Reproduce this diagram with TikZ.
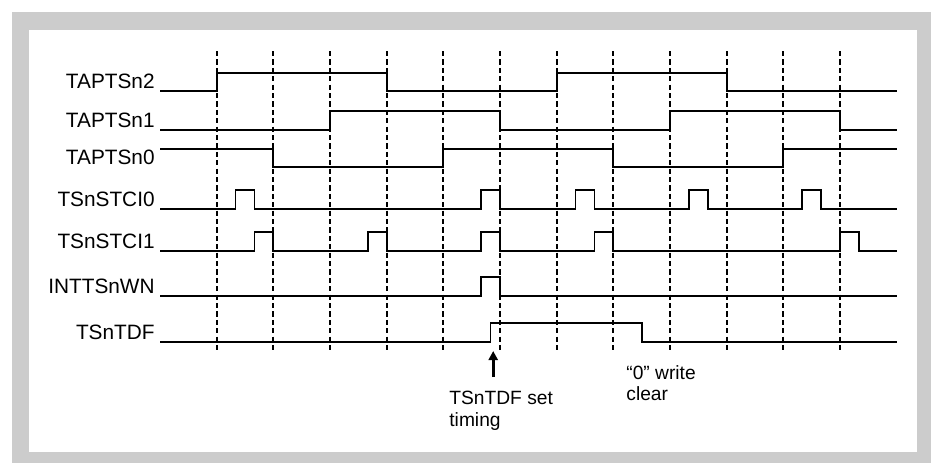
\documentclass[tikz,border=0pt]{standalone}
\usepackage{fontspec}
\setmainfont{Liberation Sans}
\usetikzlibrary{arrows.meta}

\begin{document}
\begin{tikzpicture}[x=0.5pt,y=-0.5pt,
    sig/.style={line width=0.9pt},
    tick/.style={line width=1pt, dash pattern=on 2.6pt off 1.6pt},
    lbl/.style={anchor=base east, inner sep=0pt, font=\fontsize{10.4}{12}\selectfont},
    note/.style={anchor=north west, inner sep=0pt, align=left, font=\fontsize{9.6}{10.8}\selectfont}]
    \useasboundingbox (0,0) rectangle (931,463);
    % Rahmen
    \fill[black!20] (12,12) rectangle (931,463);
    \fill[white] (29,30) rectangle (917,452);

    % Signalnamen
    \node[lbl] (tapts2) at (155,88) {TAPTSn2};
    \node[lbl] (tapts1) at (155,127) {TAPTSn1};
    \node[lbl] (tapts0) at (155,164) {TAPTSn0};
    \node[lbl] (stci0) at (155,206) {TSnSTCI0};
    \node[lbl] (stci1) at (155,248) {TSnSTCI1};
    \node[lbl] (wn) at (155,293) {INTTSnWN};
    \node[lbl] (tdf) at (155,339) {TSnTDF};

    % x in Taktperioden
    \begin{scope}[shift={(216.667,0)}, x=28.333pt]
    \foreach \k in {0,...,11} {
        \draw[tick] (\k,51) -- (\k,353);
    }
    \draw[sig] (-1,91) -| (0,73) -| (3,91) -| (6,73) -| (9,91) -- (12,91);
    \draw[sig] (-1,130) -| (2,111) -| (5,130) -| (8,111) -| (11,130) -- (12,130);
    \draw[sig] (-1,149) -| (1,167) -| (4,149) -| (7,167) -| (10,149) -- (12,149);
    \draw[sig] (-1,209) -| (1/3,190) -| (2/3,209) -| (14/3,190) -| (5,209)
        -| (19/3,190) -| (20/3,209) -| (25/3,190) -| (26/3,209)
        -| (31/3,190) -| (32/3,209) -- (12,209);
    \draw[sig] (-1,251) -| (2/3,232) -| (1,251) -| (8/3,232) -| (3,251)
        -| (14/3,232) -| (5,251) -| (20/3,232) -| (7,251)
        -| (11,232) -| (34/3,251) -- (12,251);
    \draw[sig] (-1,296) -| (14/3,277) -| (5,296) -- (12,296);
    \draw[sig] (-1,342) -| (29/6,323) -| (7.5,342) -- (12,342);

    % Setzzeitpunkt
    \coordinate (setlo) at (4.88,377);
    \coordinate (sethi) at (4.88,351);
    \draw[line width=1.6pt, -{Triangle[length=4.5pt,width=4.5pt]}] (setlo) -- (sethi);
    \end{scope}

    \node[note] (settxt) at (449,391) {TSnTDF set\\timing};
    \node[note] (clrtxt) at (626,365) {“0” write\\clear};
\end{tikzpicture}
\end{document}
